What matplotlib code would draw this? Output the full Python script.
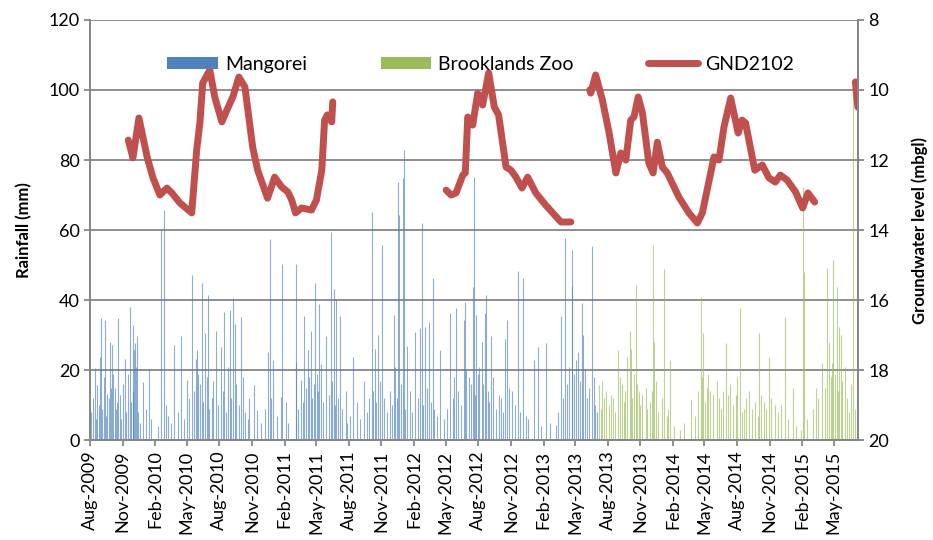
import numpy as np
import pandas as pd
import matplotlib
matplotlib.use("Agg")
import matplotlib.pyplot as plt
import matplotlib.dates as mdates
from matplotlib.patches import Patch
from matplotlib.lines import Line2D

plt.rcParams['font.family'] = ['Lato', 'DejaVu Sans']

# daily rainfall (mm), Mangorei gauge
mangorei = [
    ("2009-08-05", 8), ("2009-08-09", 12), ("2009-08-16", 20.5), ("2009-08-19", 6),
    ("2009-08-22", 15.7), ("2009-08-25", 10), ("2009-08-28", 23.8), ("2009-09-02", 34.8),
    ("2009-09-05", 9), ("2009-09-09", 18), ("2009-09-13", 34.3), ("2009-09-16", 7),
    ("2009-09-19", 13.3), ("2009-09-23", 12), ("2009-09-27", 28.1), ("2009-09-30", 15),
    ("2009-10-02", 27.1), ("2009-10-06", 19), ("2009-10-10", 14.8), ("2009-10-13", 9),
    ("2009-10-16", 11), ("2009-10-19", 34.8), ("2009-10-24", 13), ("2009-10-28", 6),
    ("2009-11-03", 16), ("2009-11-07", 23.3), ("2009-11-11", 8), ("2009-11-15", 19),
    ("2009-11-21", 38.1), ("2009-11-25", 11), ("2009-11-30", 32.9), ("2009-12-01", 14),
    ("2009-12-03", 25.7), ("2009-12-07", 27.6), ("2009-12-09", 21), ("2009-12-12", 29.7),
    ("2009-12-15", 8), ("2009-12-20", 5), ("2009-12-28", 16.7), ("2010-01-05", 9),
    ("2010-01-13", 20.2), ("2010-01-20", 6), ("2010-02-10", 4), ("2010-02-18", 60.2),
    ("2010-02-26", 65.7), ("2010-03-03", 10), ("2010-03-10", 7), ("2010-03-18", 5),
    ("2010-03-25", 27.1), ("2010-04-05", 8), ("2010-04-15", 29.7), ("2010-04-22", 6),
    ("2010-05-01", 17.1), ("2010-05-08", 12), ("2010-05-16", 47.1), ("2010-05-20", 14),
    ("2010-05-26", 23.3), ("2010-05-30", 25.7), ("2010-06-03", 19), ("2010-06-08", 16),
    ("2010-06-13", 44.8), ("2010-06-17", 11), ("2010-06-22", 30.7), ("2010-06-26", 18),
    ("2010-06-30", 41.4), ("2010-07-04", 9), ("2010-07-10", 12), ("2010-07-15", 17),
    ("2010-07-23", 31.2), ("2010-07-29", 10), ("2010-08-06", 26.7), ("2010-08-10", 14),
    ("2010-08-15", 36.7), ("2010-08-20", 8), ("2010-08-26", 21), ("2010-08-31", 37.3),
    ("2010-09-04", 12), ("2010-09-09", 40.7), ("2010-09-13", 33.3), ("2010-09-18", 16),
    ("2010-09-24", 10), ("2010-10-01", 35.2), ("2010-10-06", 18), ("2010-10-11", 8),
    ("2010-10-20", 6), ("2010-10-25", 12), ("2010-11-08", 15.7), ("2010-11-16", 8.5),
    ("2010-11-26", 5), ("2010-12-08", 9), ("2010-12-15", 25.2), ("2010-12-21", 57.3),
    ("2010-12-25", 12), ("2010-12-31", 22.9), ("2011-01-10", 7), ("2011-01-21", 12.4),
    ("2011-01-26", 50.3), ("2011-02-04", 11), ("2011-02-12", 5), ("2011-03-04", 22.4),
    ("2011-03-06", 50.3), ("2011-03-12", 9), ("2011-03-19", 17.1), ("2011-03-24", 11),
    ("2011-03-28", 35.4), ("2011-04-03", 15), ("2011-04-08", 25.7), ("2011-04-12", 18),
    ("2011-04-16", 31.2), ("2011-04-20", 12), ("2011-04-24", 16), ("2011-04-28", 44.8),
    ("2011-05-03", 19), ("2011-05-06", 14), ("2011-05-09", 38.8), ("2011-05-15", 21.7),
    ("2011-05-20", 11), ("2011-05-28", 29.7), ("2011-06-05", 13), ("2011-06-12", 59.3),
    ("2011-06-16", 17), ("2011-06-20", 43.3), ("2011-06-23", 10), ("2011-06-26", 40.2),
    ("2011-07-01", 12), ("2011-07-07", 35.4), ("2011-07-14", 9), ("2011-07-23", 14),
    ("2011-07-28", 5), ("2011-08-05", 7), ("2011-08-14", 23.8), ("2011-08-24", 11),
    ("2011-09-02", 6), ("2011-09-14", 16.8), ("2011-09-22", 8), ("2011-09-28", 12),
    ("2011-10-05", 65.2), ("2011-10-09", 14), ("2011-10-14", 26), ("2011-10-18", 11),
    ("2011-10-23", 30.0), ("2011-10-28", 17), ("2011-11-04", 55.7), ("2011-11-10", 12),
    ("2011-11-18", 8), ("2011-11-26", 14), ("2011-12-02", 10), ("2011-12-06", 35.7),
    ("2011-12-11", 21), ("2011-12-16", 12), ("2011-12-19", 73.8), ("2011-12-20", 64.3),
    ("2011-12-27", 16), ("2012-01-01", 74.8), ("2012-01-03", 82.9), ("2012-01-08", 9),
    ("2012-01-13", 26.9), ("2012-01-22", 14), ("2012-01-28", 8), ("2012-02-05", 31),
    ("2012-02-12", 12), ("2012-02-17", 31.9), ("2012-02-23", 61.9), ("2012-02-28", 10),
    ("2012-03-04", 32.4), ("2012-03-09", 15), ("2012-03-14", 33.8), ("2012-03-19", 11),
    ("2012-03-25", 46.2), ("2012-03-29", 9), ("2012-04-05", 7), ("2012-04-14", 25.7),
    ("2012-04-25", 6), ("2012-05-05", 9), ("2012-05-14", 36.4), ("2012-05-20", 12),
    ("2012-05-25", 18), ("2012-05-30", 37.6), ("2012-06-05", 14), ("2012-06-12", 10),
    ("2012-06-20", 34.3), ("2012-06-23", 39.5), ("2012-06-28", 20), ("2012-07-05", 18),
    ("2012-07-10", 16), ("2012-07-17", 43.8), ("2012-07-19", 75.2), ("2012-07-23", 13),
    ("2012-07-25", 35.7), ("2012-07-30", 19), ("2012-08-03", 21), ("2012-08-11", 28.1),
    ("2012-08-15", 16), ("2012-08-19", 36.2), ("2012-08-22", 41.4), ("2012-08-27", 14),
    ("2012-09-01", 11), ("2012-09-06", 29.7), ("2012-09-12", 18), ("2012-09-20", 9),
    ("2012-09-28", 13), ("2012-10-05", 12), ("2012-10-10", 8), ("2012-10-16", 28.8),
    ("2012-10-21", 34.3), ("2012-10-26", 15), ("2012-11-05", 14), ("2012-11-12", 10),
    ("2012-11-20", 48.3), ("2012-11-26", 8), ("2012-12-04", 46.2), ("2012-12-12", 7),
    ("2012-12-20", 6), ("2013-01-04", 22.9), ("2013-01-16", 26.7), ("2013-01-24", 4),
    ("2013-02-08", 27.6), ("2013-02-20", 5), ("2013-03-08", 4.3), ("2013-03-14", 8),
    ("2013-03-22", 35.4), ("2013-03-28", 12), ("2013-04-03", 57.6), ("2013-04-08", 16),
    ("2013-04-13", 21), ("2013-04-21", 54.3), ("2013-04-23", 44.0), ("2013-04-27", 19),
    ("2013-05-04", 23), ("2013-05-10", 25.2), ("2013-05-14", 17), ("2013-05-20", 39.2),
    ("2013-05-24", 30), ("2013-05-28", 20), ("2013-06-04", 12), ("2013-06-10", 15),
    ("2013-06-19", 55.4), ("2013-06-22", 18), ("2013-06-27", 10), ("2013-07-02", 8),
]

# daily rainfall (mm), Brooklands Zoo gauge
brooklands = [
    ("2013-07-08", 15.7), ("2013-07-12", 9), ("2013-07-17", 17), ("2013-07-22", 12),
    ("2013-07-28", 14), ("2013-08-04", 10), ("2013-08-10", 13), ("2013-08-16", 12),
    ("2013-08-22", 8), ("2013-08-31", 25.7), ("2013-09-05", 18), ("2013-09-11", 16),
    ("2013-09-16", 11), ("2013-09-20", 14), ("2013-09-25", 23.8), ("2013-10-02", 31.2),
    ("2013-10-05", 26), ("2013-10-09", 12), ("2013-10-13", 19), ("2013-10-19", 44.3),
    ("2013-10-24", 16), ("2013-10-28", 14), ("2013-11-01", 10), ("2013-11-06", 13),
    ("2013-11-16", 15), ("2013-11-21", 9), ("2013-11-28", 11), ("2013-12-03", 14),
    ("2013-12-08", 55.7), ("2013-12-10", 28), ("2013-12-14", 17), ("2013-12-20", 8),
    ("2014-01-02", 12), ("2014-01-08", 48.8), ("2014-01-14", 7), ("2014-01-18", 9),
    ("2014-01-25", 22.9), ("2014-02-05", 4), ("2014-02-20", 3), ("2014-03-04", 5),
    ("2014-03-23", 11.4), ("2014-04-03", 7), ("2014-04-14", 14), ("2014-04-20", 40.8),
    ("2014-04-24", 18), ("2014-04-27", 30.5), ("2014-05-02", 11), ("2014-05-08", 15),
    ("2014-05-12", 19), ("2014-05-17", 14), ("2014-05-24", 13), ("2014-06-04", 17),
    ("2014-06-10", 12), ("2014-06-16", 9), ("2014-06-22", 14), ("2014-06-30", 27.6),
    ("2014-07-06", 13), ("2014-07-12", 16), ("2014-07-20", 10), ("2014-07-28", 13),
    ("2014-08-02", 18), ("2014-08-08", 37.6), ("2014-08-14", 8), ("2014-08-20", 9),
    ("2014-08-27", 12), ("2014-09-05", 14), ("2014-09-12", 9), ("2014-09-22", 11),
    ("2014-09-28", 7), ("2014-10-03", 30.5), ("2014-10-08", 13), ("2014-10-15", 11),
    ("2014-10-23", 9), ("2014-10-31", 23.8), ("2014-11-06", 12), ("2014-11-15", 10),
    ("2014-11-24", 8), ("2014-12-02", 10), ("2014-12-13", 35.2), ("2014-12-22", 6),
    ("2015-01-07", 15), ("2015-01-15", 4), ("2015-01-28", 3), ("2015-02-04", 72.4),
    ("2015-02-07", 48), ("2015-02-15", 6), ("2015-03-02", 9), ("2015-03-11", 15),
    ("2015-03-18", 12), ("2015-03-28", 22), ("2015-04-05", 15), ("2015-04-12", 49.3),
    ("2015-04-17", 28), ("2015-04-22", 18), ("2015-04-26", 22), ("2015-04-30", 51.4),
    ("2015-05-04", 19), ("2015-05-10", 43.8), ("2015-05-13", 14), ("2015-05-17", 32.4),
    ("2015-05-20", 30), ("2015-05-25", 17), ("2015-06-02", 21), ("2015-06-08", 12),
    ("2015-06-12", 8), ("2015-06-18", 16), ("2015-06-25", 99.0), ("2015-06-30", 9),
]

# groundwater level GND2102 (m below ground), four logged periods
gw1_dates = ["2009-11-17", "2009-11-30", "2009-12-17", "2010-01-09", "2010-01-25",
             "2010-02-14", "2010-03-06", "2010-03-20", "2010-04-12", "2010-05-15",
             "2010-05-29", "2010-06-07", "2010-06-15", "2010-07-05", "2010-07-19",
             "2010-08-08", "2010-08-25", "2010-09-08", "2010-09-25", "2010-10-12",
             "2010-11-03", "2010-11-17", "2010-12-15", "2011-01-04", "2011-01-24",
             "2011-02-10", "2011-02-21", "2011-03-04", "2011-03-21", "2011-04-18",
             "2011-05-02", "2011-05-17", "2011-05-25", "2011-06-02", "2011-06-14",
             "2011-06-17"]
gw1_level = [11.43, 11.94, 10.8, 11.91, 12.49, 13.0, 12.8, 12.94, 13.23, 13.51,
             11.71, 10.94, 9.8, 9.43, 10.2, 10.91, 10.51, 10.2, 9.63, 9.91,
             11.63, 12.29, 13.09, 12.49, 12.77, 12.91, 13.14, 13.51, 13.37, 13.43,
             13.14, 12.29, 10.86, 10.71, 10.91, 10.34]

gw2_dates = ["2012-05-02", "2012-05-16", "2012-05-30", "2012-06-18", "2012-06-25",
             "2012-07-02", "2012-07-16", "2012-07-30", "2012-08-13", "2012-08-30",
             "2012-09-15", "2012-09-27", "2012-10-18", "2012-11-01", "2012-11-15",
             "2012-12-02", "2012-12-18", "2013-01-10", "2013-02-07", "2013-03-22",
             "2013-04-19"]
gw2_level = [12.86, 13.0, 12.94, 12.43, 12.37, 10.77, 11.0, 10.09, 10.43, 9.51,
             10.49, 10.71, 12.2, 12.29, 12.49, 12.8, 12.49, 12.94, 13.29, 13.77,
             13.77]

gw3_dates = ["2013-06-11", "2013-06-14", "2013-06-28", "2013-07-17", "2013-08-05",
             "2013-08-24", "2013-09-07", "2013-09-21", "2013-10-05", "2013-10-14",
             "2013-10-26", "2013-11-07", "2013-11-25", "2013-12-07", "2013-12-19",
             "2014-01-02", "2014-01-16", "2014-02-18", "2014-03-18", "2014-04-11",
             "2014-04-25", "2014-05-28", "2014-06-11", "2014-06-25", "2014-07-14",
             "2014-08-04", "2014-08-15", "2014-08-25", "2014-09-20", "2014-10-11",
             "2014-10-30", "2014-11-17", "2014-12-01", "2014-12-20", "2015-01-13",
             "2015-02-02", "2015-02-17", "2015-03-08"]
gw3_level = [10.0, 10.09, 9.57, 10.29, 11.23, 12.37, 11.8, 12.0, 10.86, 10.77,
             10.2, 10.66, 12.09, 12.37, 11.49, 12.2, 12.37, 13.06, 13.51, 13.8,
             13.51, 11.91, 12.0, 11.06, 10.23, 11.23, 10.86, 10.94, 12.29, 12.14,
             12.51, 12.63, 12.43, 12.57, 12.91, 13.37, 12.94, 13.2]

gw4_dates = ["2015-07-01", "2015-07-08"]
gw4_level = [9.77, 10.49]

blue = '#4F81BD'
green = '#9BBB59'
red = '#C0504D'
grey = '#868686'

fig = plt.figure(figsize=(9.33, 5.4), dpi=100)
ax = fig.add_axes([0.0965, 0.185, 0.823, 0.778])

m_d = pd.to_datetime([d for d, v in mangorei])
m_v = [v for d, v in mangorei]
b_d = pd.to_datetime([d for d, v in brooklands])
b_v = [v for d, v in brooklands]

ax.vlines(m_d, 0, m_v, color=blue, lw=0.8, alpha=0.65)
ax.vlines(b_d, 0, b_v, color=green, lw=0.8, alpha=0.65)

ax.set_ylim(0, 120)
ax.set_yticks(np.arange(0, 121, 20))
ax.set_xlim(pd.Timestamp("2009-08-01"), pd.Timestamp("2015-07-08"))
ax.grid(axis='y', color=grey, lw=1.3)
ax.set_axisbelow(True)
ax.xaxis.set_major_locator(mdates.MonthLocator(bymonth=[2, 5, 8, 11]))
ax.xaxis.set_major_formatter(mdates.DateFormatter('%b-%Y'))
plt.setp(ax.get_xticklabels(), rotation=90)
ax.set_ylabel('Rainfall (mm)', fontsize=12, fontweight='bold', labelpad=12)

ax2 = ax.twinx()
for dd, lv in [(gw1_dates, gw1_level), (gw2_dates, gw2_level),
               (gw3_dates, gw3_level), (gw4_dates, gw4_level)]:
    ax2.plot(pd.to_datetime(dd), lv, color=red, lw=5, solid_capstyle='round',
             solid_joinstyle='round')
ax2.set_ylim(20, 8)
ax2.set_yticks(np.arange(8, 21, 2))
ax2.set_ylabel('Groundwater level (mbgl)', fontsize=12, fontweight='bold', labelpad=16)
ax2.set_xlim(pd.Timestamp("2009-08-01"), pd.Timestamp("2015-07-08"))

for a in (ax, ax2):
    a.spines['top'].set_visible(False)
    for s in ('left', 'right', 'bottom'):
        a.spines[s].set_color(grey)
        a.spines[s].set_linewidth(1.3)
    a.tick_params(colors=grey, labelcolor='black', labelsize=13, length=4, width=1.3)

handles = [Patch(facecolor=blue, edgecolor='none'),
           Patch(facecolor=green, edgecolor='none'),
           Line2D([], [], color=red, lw=5, solid_capstyle='round')]
ax2.legend(handles, ['Mangorei', 'Brooklands Zoo', 'GND2102'], loc='center',
           bbox_to_anchor=(0.509, 0.895), ncol=3, frameon=False, fontsize=14,
           handlelength=2.6, handleheight=0.6, handletextpad=0.36, columnspacing=3.8)

fig.savefig('out.png', dpi=100)
